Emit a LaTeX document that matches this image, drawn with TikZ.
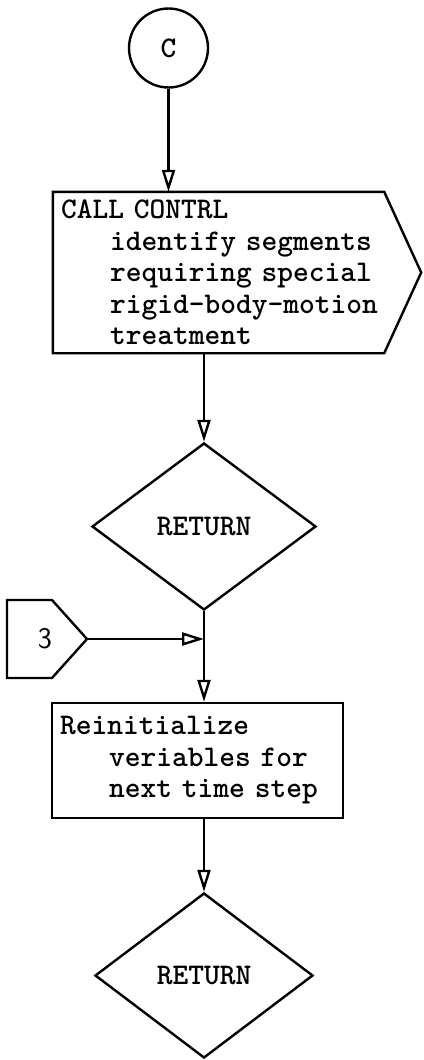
\documentclass[tikz,border=0pt]{standalone}
\usetikzlibrary{arrows.meta,shapes.geometric}
% typewriter face used for all labels, with fixed-width word spaces
\newcommand{\monofont}{\fontsize{30}{31.5}\selectfont\ttfamily\bfseries\spaceskip 15.75pt\relax}
\newcommand{\ind}{\hspace*{49pt}}
\tikzset{
  flow/.style={line width=2.4pt},
  arr/.style={flow, -{Triangle[open, length=22pt, width=13pt]}},
  txt/.style={font=\monofont},
  procbox/.style={txt, align=left, inner xsep=8pt, inner ysep=0pt},
  decision/.style={diamond, draw, flow, txt, inner sep=0pt},
}
\begin{document}
\begin{tikzpicture}[x=1pt, y=-1pt, line join=miter]
  \useasboundingbox (0,0) rectangle (423,1060);

  % entry connector
  \node[circle, draw, flow, txt, minimum size=79pt, inner sep=0pt] (c) at (168.5,48) {C};

  % CALL CONTRL block (pentagon pointing right)
  \node[procbox, text width=315pt, minimum height=161pt] (b1) at (218.5,272.5)
    {CALL CONTRL\\ \ind identify segments\\ \ind requiring special\\ \ind rigid-body-motion\\ \ind treatment};
  \draw[flow] (b1.north west) -- (b1.north east) -- ([xshift=37pt]b1.east)
    -- (b1.south east) -- (b1.south west) -- cycle;

  % first return
  \node[decision, minimum width=224pt, minimum height=167pt] (d1) at (204,526.5) {RETURN};

  % off-page connector 3
  \node[font=\fontsize{30}{31}\selectfont\sffamily, inner sep=0pt] (k3) at (45,639) {3};
  \draw[flow] (7,600) -- (52,600) -- (87,639) -- (52,678) -- (7,678) -- cycle;
  \coordinate (k3tip) at (87,639);

  % reinitialize block
  \node[procbox, draw, flow, text width=275pt, minimum height=115pt] (b2) at (197.5,760.5)
    {Reinitialize\\ \ind veriables for\\ \ind next time step};

  % second return
  \node[decision, minimum width=218pt, minimum height=165pt] (d2) at (204,975.5) {RETURN};

  % connectors
  \draw[arr] (c.south) -- (c.south |- b1.north);
  \draw[arr] (d1.north |- b1.south) -- (d1.north);
  \draw[arr] (d1.south) -- (d1.south |- b2.north);
  \draw[arr] (k3tip) -- (k3tip -| d1.south);
  \draw[arr] (d2.north |- b2.south) -- (d2.north);
\end{tikzpicture}
\end{document}
